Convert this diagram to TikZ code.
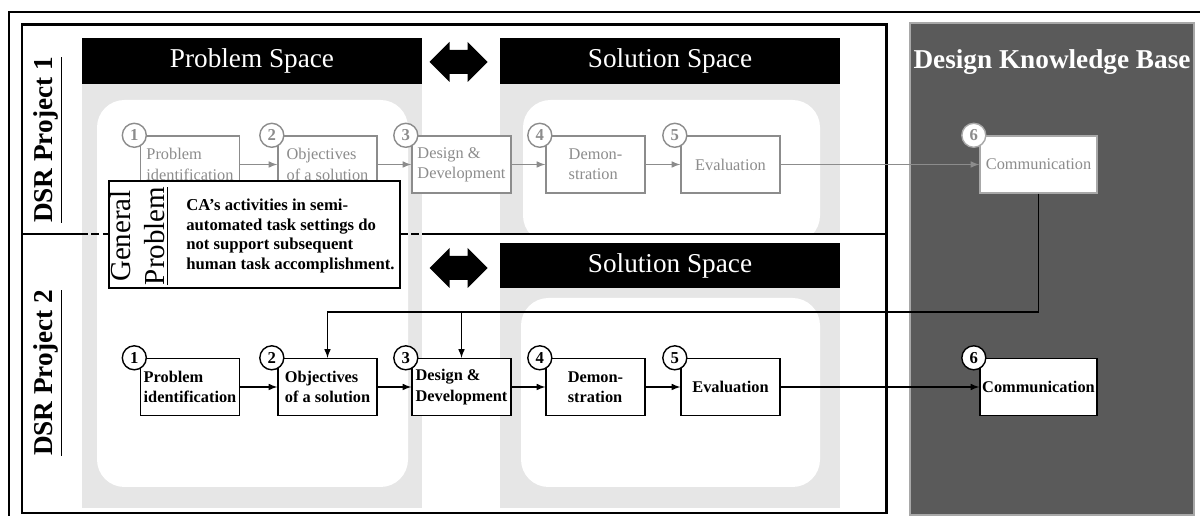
\documentclass[tikz,border=0pt]{standalone}
\usepackage{fontspec}
\setmainfont{Liberation Serif}
\usepackage{tikz}
\definecolor{bandgray}{HTML}{E6E6E6}
\definecolor{stepgray}{HTML}{8C8C8C}
\definecolor{kbgray}{HTML}{5A5A5A}
\definecolor{kbedge}{HTML}{A8A8A8}
\tikzset{
    dblarrow/.pic = {
    \fill (-29,0) -- (-9,-20) -- (-9,-12) -- (9,-12) -- (9,-20) -- (29,0)
          -- (9,20) -- (9,12) -- (-9,12) -- (-9,20) -- cycle;
    }
}
\tikzset{
    Header/.style={
        fill=black,
        text=white,
        minimum width=6.8cm,
        minimum height=0.92cm,
        font=\fontsize{15.5}{18}\selectfont
    }
}
\tikzset{
    GrayStep/.style={
        draw=stepgray,
        fill=white,
        text=stepgray,
        line width=0.8pt,
        align=left,
        inner sep=1pt,
        minimum width=1.98cm,
        minimum height=1.14cm,
        font=\fontsize{9.3}{11.5}\selectfont
    },
    BlackStep/.style={
        GrayStep,
        draw=black,
        text=black,
        font=\bfseries\fontsize{9.3}{11.5}\selectfont
    }
}
\tikzset{
    GrayNum/.style={circle, draw=stepgray, fill=white, text=stepgray,
    line width=0.8pt, inner sep=0pt, minimum size=0.48cm,
    font=\bfseries\fontsize{9.5}{10}\selectfont},
    BlackNum/.style={GrayNum, draw=black, text=black}
}
\tikzset{
    Frame/.style={line width=1.7pt}
}
\newcommand{\drawStep}[5]{\node[#1Step] (#2) at #3 {#5};
    \node[#1Num] (#2n) at ([xshift=-0.11cm]#2.north west) {#4}}

\begin{document}
\begin{tikzpicture}[x=0.02cm,y=-0.02cm]
\useasboundingbox (0,0) rectangle (1200,516);

    \fill[bandgray] (82,84) rectangle (422,508);
    \fill[bandgray] (500,84) rectangle (840,233);
    \fill[bandgray] (500,288) rectangle (840,508);

    \fill[white, rounded corners=0.55cm] (97,100) rectangle (408,487);
    \fill[white, rounded corners=0.55cm] (523,100) rectangle (820,243);
    \fill[white, rounded corners=0.55cm] (521,298) rectangle (820,487);

    \node[Header] (ps) at (252,61) {Problem Space};
    \node[Header] (ss1) at (670,61) {Solution Space};
    \node[Header] (ss2) at (670,265.5) {Solution Space};

    \path (458.5,62) pic {dblarrow};
    \path (458.5,268) pic {dblarrow};

    \filldraw[fill=kbgray, draw=kbedge, line width=0.6pt] (910,23) rectangle (1194,515);
    \node[text=white, font=\bfseries\fontsize{15.5}{18}\selectfont] (kb) at (1052,62) {Design Knowledge Base};

    \draw[line width=0.8pt] (9,516) -- (9,12) -- (1200,12);
    \draw[Frame] (22,25) rectangle (886,513);

    \node[rotate=90, font=\bfseries\fontsize{15.5}{18}\selectfont] (p1) at (48,140) {\underline{DSR Project 1}};
    \node[rotate=90, font=\bfseries\fontsize{15.5}{18}\selectfont] (p2) at (48,373) {\underline{DSR Project 2}};

    % project 1
    \drawStep{Gray}{t1}{(190,164.5)}{1}{Problem\\identification};
    \drawStep{Gray}{t2}{(327.5,164.5)}{2}{Objectives\\of a solution};
    \drawStep{Gray}{t3}{(461.5,164.5)}{3}{Design \&\\Development};
    \drawStep{Gray}{t4}{(595.5,164.5)}{4}{Demon-\\stration};
    \drawStep{Gray}{t5}{(730.5,164.5)}{5}{Evaluation};
    \node[GrayStep, minimum width=2.34cm, draw=kbedge] (t6) at (1038.5,164.5) {Communication};
    \node[GrayNum, draw=kbedge] (t6n) at ([xshift=-0.11cm]t6.north west) {6};

    \draw[-latex, stepgray, line width=0.7pt] (t1) -- (t2);
    \draw[-latex, stepgray, line width=0.7pt] (t2) -- (t3);
    \draw[-latex, stepgray, line width=0.7pt] (t3) -- (t4);
    \draw[-latex, stepgray, line width=0.7pt] (t4) -- (t5);
    \draw[-latex, stepgray, line width=0.7pt] (t5) -- (t6);

    \draw[Frame] (22,234) -- (80,234);
    \draw[Frame, dash pattern=on 4.5pt off 2pt] (80,234) -- (422,234);
    \draw[Frame] (422,234) -- (886,234);

    % project 2
    \drawStep{Black}{b1}{(190,387)}{1}{Problem\\identification};
    \drawStep{Black}{b2}{(327.5,387)}{2}{Objectives\\of a solution};
    \drawStep{Black}{b3}{(461.5,387)}{3}{Design \&\\Development};
    \drawStep{Black}{b4}{(595.5,387)}{4}{Demon-\\stration};
    \drawStep{Black}{b5}{(730.5,387)}{5}{Evaluation};
    \node[BlackStep, minimum width=2.34cm] (b6) at (1038.5,387) {Communication};
    \node[BlackNum] (b6n) at ([xshift=-0.11cm]b6.north west) {6};

    \draw[-latex, line width=0.7pt] (b1) -- (b2);
    \draw[-latex, line width=0.7pt] (b2) -- (b3);
    \draw[-latex, line width=0.7pt] (b3) -- (b4);
    \draw[-latex, line width=0.7pt] (b4) -- (b5);
    \draw[-latex, line width=0.7pt] (b5) -- (b6);

    \coordinate (fb) at (1038.5,312);
    \draw[-latex, line width=0.7pt] (t6.south) -- (fb) -| (b2.north);
    \draw[-latex, line width=0.7pt] (fb -| b3.north) -- (b3.north);

    % general problem
    \node[draw, fill=white, line width=0.9pt, minimum width=5.82cm, minimum height=2.14cm] (gp) at (254.5,234.5) {};
    \node[rotate=90, align=center, font=\fontsize{16.5}{19.5}\selectfont] (gpt) at (139,236) {General\\\underline{Problem}};
    \node[anchor=west, align=left, inner sep=0pt, font=\bfseries\fontsize{9.5}{11.2}\selectfont] (gpx) at (186,236) {CA’s activities in semi-\\automated task settings do\\not support subsequent\\human task accomplishment.};

\end{tikzpicture}
\end{document}
